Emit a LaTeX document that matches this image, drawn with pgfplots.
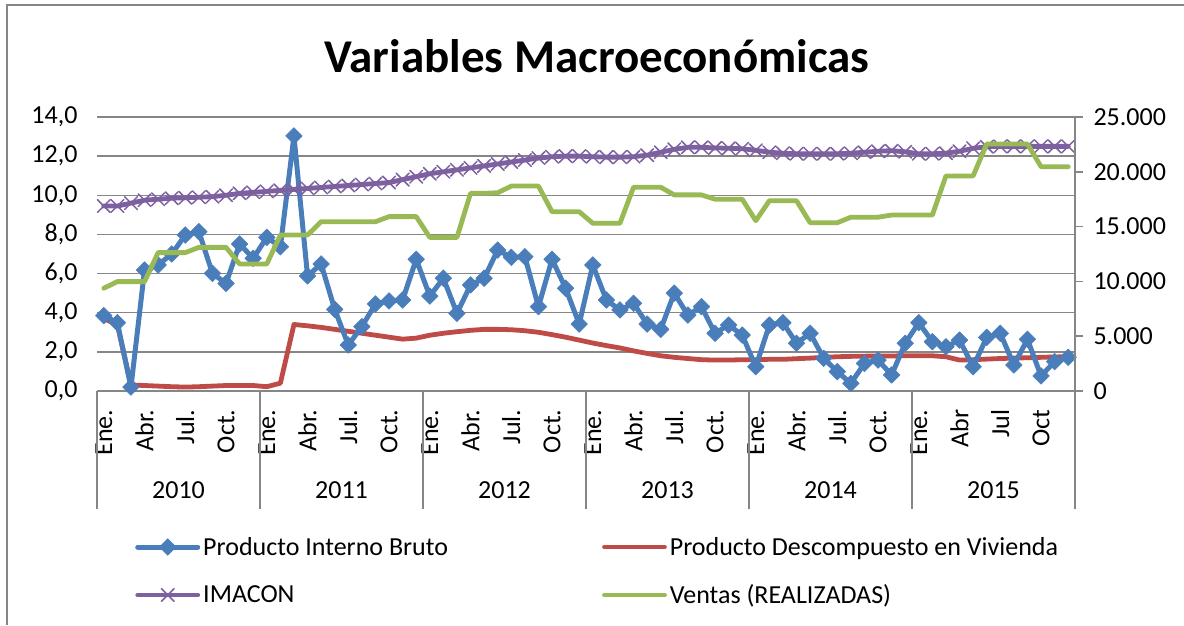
\documentclass[border=0pt]{standalone}
\usepackage{fontspec}
\setmainfont{Carlito}
\usepackage{pgfplots}
\pgfplotsset{compat=1.18}
\usepackage{pgfplotstable}
\definecolor{pib}{RGB}{74,126,187}
\definecolor{dv}{RGB}{190,75,72}
\definecolor{ima}{RGB}{125,96,160}
\definecolor{ven}{RGB}{152,185,84}
\definecolor{axisgray}{RGB}{134,134,134}
\newcommand{\tfont}{\fontsize{26}{31}\selectfont}

\pgfplotstableread{
x pib dv ima ven
0 3.85 3.71 9.45 9375
1 3.49 3.37 9.45 9982
2 0.20 0.31 9.60 9982
3 6.18 0.28 9.75 9982
4 6.44 0.25 9.80 12625
5 7.00 0.22 9.85 12625
6 7.97 0.20 9.87 12625
7 8.14 0.22 9.90 13107
8 6.01 0.25 9.93 13107
9 5.50 0.28 10.00 13107
10 7.51 0.28 10.10 11589
11 6.78 0.28 10.15 11589
12 7.85 0.22 10.20 11589
13 7.37 0.40 10.25 14232
14 13.03 3.40 10.30 14232
15 5.88 3.33 10.35 14232
16 6.49 3.25 10.40 15446
17 4.17 3.15 10.45 15446
18 2.35 3.05 10.50 15446
19 3.29 2.95 10.55 15446
20 4.45 2.85 10.60 15446
21 4.60 2.75 10.65 15911
22 4.65 2.65 10.80 15911
23 6.73 2.70 10.95 15911
24 4.85 2.85 11.10 14018
25 5.76 2.95 11.20 14018
26 3.97 3.03 11.30 14018
27 5.42 3.10 11.40 18036
28 5.76 3.15 11.50 18036
29 7.20 3.15 11.60 18089
30 6.83 3.13 11.70 18696
31 6.86 3.08 11.80 18696
32 4.31 3.00 11.90 18696
33 6.73 2.88 11.97 16357
34 5.25 2.75 12.00 16357
35 3.42 2.60 12.00 16357
36 6.44 2.45 11.97 15304
37 4.65 2.32 11.95 15304
38 4.14 2.20 11.95 15304
39 4.48 2.05 11.97 18589
40 3.42 1.92 12.05 18589
41 3.15 1.80 12.20 18589
42 5.00 1.72 12.35 17893
43 3.88 1.66 12.45 17893
44 4.31 1.60 12.45 17893
45 2.95 1.58 12.42 17500
46 3.37 1.58 12.40 17500
47 2.86 1.60 12.38 17500
48 1.24 1.60 12.30 15536
49 3.37 1.62 12.20 17357
50 3.49 1.62 12.15 17357
51 2.44 1.65 12.12 17357
52 2.95 1.68 12.12 15357
53 1.67 1.72 12.12 15357
54 0.99 1.75 12.12 15357
55 0.39 1.77 12.15 15857
56 1.41 1.78 12.20 15857
57 1.58 1.79 12.25 15857
58 0.82 1.79 12.28 16054
59 2.44 1.80 12.22 16054
60 3.49 1.80 12.12 16054
61 2.52 1.80 12.12 16054
62 2.26 1.75 12.15 19625
63 2.60 1.58 12.25 19625
64 1.24 1.60 12.40 19625
65 2.74 1.63 12.48 22536
66 2.95 1.66 12.50 22536
67 1.33 1.68 12.50 22536
68 2.64 1.70 12.50 22536
69 0.77 1.72 12.50 20464
70 1.50 1.74 12.50 20464
71 1.72 1.75 12.50 20464
}\data

\pgfplotsset{
  pibstyle/.style={color=pib, line width=5pt, line join=round, line cap=round, mark=square*, mark size=5.9pt, mark options={rotate=45, line width=0.5pt, fill=pib, draw=pib}},
  dvstyle/.style={color=dv, line width=4.8pt, line join=round, line cap=round, no markers},
  imastyle/.style={color=ima, line width=4.8pt, line join=round, line cap=round, mark=x, mark size=9pt, mark options={line width=1.5pt}},
  venstyle/.style={color=ven, line width=4.8pt, line join=round, line cap=round, no markers},
}

\begin{document}
\begin{tikzpicture}
\useasboundingbox (0,0) rectangle (1184pt,625pt);
\draw[axisgray, line width=2pt] (7pt,0pt) -- (7pt,620pt) -- (1184pt,620pt);
\node[font=\fontsize{47}{56}\selectfont\bfseries] at (597pt,569pt) {Variables Macroeconómicas};

\begin{axis}[
  at={(97pt,234pt)}, anchor=south west,
  width=978pt, height=274pt, scale only axis,
  xmin=-0.5, xmax=71.5, ymin=0, ymax=14,
  clip=false,
  separate axis lines,
  axis x line*=bottom, axis y line*=left,
  x axis line style={draw=axisgray, line width=1.5pt, -},
  y axis line style={draw=none},
  major tick length=0pt,
  ytick={0,2,...,14},
  ymajorgrids,
  major grid style={axisgray, line width=1.5pt},
  /pgf/number format/assume math mode=true,
  /pgf/number format/fixed,
  /pgf/number format/fixed zerofill,
  /pgf/number format/precision=1,
  /pgf/number format/use comma,
  tick label style={font=\tfont},
  yticklabel style={xshift=-16pt},
  xtick={0,3,...,69},
  xticklabels={Ene.,Abr.,Jul.,Oct.,Ene.,Abr.,Jul.,Oct.,Ene.,Abr.,Jul.,Oct.,Ene.,Abr.,Jul.,Oct.,Ene.,Abr.,Jul.,Oct.,Ene.,Abr,Jul,Oct},
  x tick label style={rotate=90, anchor=east},
  xticklabel shift=15pt,
  extra x ticks={-0.5,11.5,23.5,35.5,47.5,59.5,71.5},
  extra x tick labels={},
  extra x tick style={grid=none, major tick length=118pt, tick align=outside, tick style={draw=axisgray, line width=1.5pt}},
]
\addplot[dvstyle] table[x=x,y=dv]{\data};
\addplot[pibstyle] table[x=x,y=pib]{\data};
\addplot[imastyle] table[x=x,y=ima]{\data};
\node[font=\tfont] at (axis cs:5.5,0) [yshift=-99pt] {2010};
\node[font=\tfont] at (axis cs:17.5,0) [yshift=-99pt] {2011};
\node[font=\tfont] at (axis cs:29.5,0) [yshift=-99pt] {2012};
\node[font=\tfont] at (axis cs:41.5,0) [yshift=-99pt] {2013};
\node[font=\tfont] at (axis cs:53.5,0) [yshift=-99pt] {2014};
\node[font=\tfont] at (axis cs:65.5,0) [yshift=-99pt] {2015};
\end{axis}

\begin{axis}[
  at={(97pt,234pt)}, anchor=south west,
  width=978pt, height=274pt, scale only axis,
  xmin=-0.5, xmax=71.5, ymin=0, ymax=25000,
  clip=false,
  axis x line=none,
  axis y line*=right,
  y axis line style={draw=axisgray, line width=1.5pt, -},
  ytick={0,5000,...,25000},
  scaled y ticks=false,
  major tick length=8pt,
  tick align=outside,
  tick style={draw=axisgray, line width=1.5pt},
  /pgf/number format/assume math mode=true,
  /pgf/number format/use comma,
  /pgf/number format/1000 sep={.},
  tick label style={font=\tfont},
  yticklabel style={xshift=7pt},
  legend columns=2,
  legend cell align=left,
  legend image code/.code={\draw[mark repeat=2,mark phase=2] plot coordinates {(0pt,0pt)(30pt,0pt)(60pt,0pt)};},
  legend style={draw=none, fill=none, font=\tfont, inner sep=0pt,
    at={(0.0389,-0.522)}, anchor=north west,
    nodes={inner sep=3pt},
    row sep=22pt,
    /tikz/every even column/.append style={column sep=151pt}},
]
\addlegendimage{pibstyle}\addlegendentry{Producto Interno Bruto}
\addlegendimage{dvstyle}\addlegendentry{Producto Descompuesto en Vivienda}
\addlegendimage{imastyle}\addlegendentry{IMACON}
\addplot[venstyle] table[x=x,y=ven]{\data};
\addlegendentry{Ventas (REALIZADAS)}
\end{axis}
\end{tikzpicture}
\end{document}
